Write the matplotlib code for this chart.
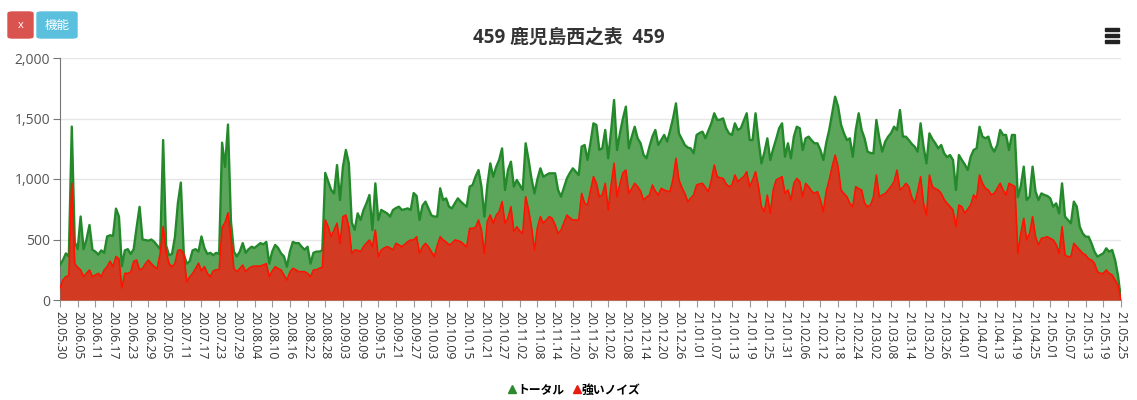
import matplotlib
matplotlib.use("Agg")
import matplotlib.pyplot as plt
from matplotlib.lines import Line2D
from matplotlib.patches import FancyBboxPatch, Rectangle
from matplotlib.ticker import FuncFormatter
import numpy as np
import pandas as pd

plt.rcParams['font.family'] = ['Open Sans', 'Noto Sans CJK JP', 'DejaVu Sans']

title = '459 鹿児島西之表  459'
series_names = ['トータル', '強いノイズ']
dates = pd.date_range('2020-05-30', '2021-05-25', freq='D')
tick_step = 6

# daily totals (green)
total = [
    290, 330, 385, 360, 1433, 480, 420, 690, 420, 500,
    620, 415, 400, 375, 410, 390, 525, 535, 530, 755,
    690, 280, 410, 420, 380, 420, 600, 770, 500, 495,
    490, 500, 480, 450, 420, 1322, 450, 370, 380, 520,
    800, 970, 380, 300, 320, 410, 420, 400, 525, 430,
    380, 390, 370, 390, 380, 1300, 1100, 1450, 650, 400,
    360, 400, 470, 390, 420, 440, 430, 450, 470, 460,
    480, 300, 400, 455, 430, 386, 360, 275, 400, 480,
    470, 470, 440, 415, 440, 300, 390, 400, 400, 410,
    1050, 980, 910, 880, 1115, 826, 1100, 1240, 1130, 640,
    580, 716, 661, 744, 800, 868, 578, 964, 661, 744,
    730, 716, 689, 744, 760, 771, 744, 750, 757, 744,
    884, 860, 661, 780, 813, 758, 700, 689, 690, 923,
    826, 840, 771, 758, 800, 840, 813, 790, 771, 937,
    950, 1020, 1074, 937, 689, 950, 1129, 1019, 1100, 1157,
    1253, 909, 1074, 1143, 937, 992, 950, 909, 1295, 1157,
    1000, 881, 1000, 1088, 1019, 1033, 1047, 1047, 1047, 909,
    854, 930, 1005, 1050, 1088, 1060, 1033, 1267, 1281, 1157,
    1300, 1460, 1446, 1240, 1253, 1405, 1171, 1400, 1653, 1240,
    1380, 1500, 1598, 1253, 1350, 1432, 1336, 1295, 1200, 1171,
    1267, 1350, 1405, 1281, 1322, 1364, 1309, 1400, 1500, 1625,
    1377, 1330, 1281, 1260, 1253, 1212, 1364, 1380, 1391, 1336,
    1400, 1460, 1543, 1488, 1490, 1501, 1420, 1377, 1364, 1460,
    1405, 1419, 1480, 1543, 1322, 1322, 1543, 1322, 1129, 1220,
    1336, 1157, 1250, 1330, 1419, 1460, 1184, 1295, 1171, 1350,
    1432, 1419, 1240, 1336, 1350, 1320, 1295, 1295, 1240, 1157,
    1300, 1405, 1543, 1680, 1600, 1450, 1377, 1322, 1336, 1184,
    1405, 1543, 1405, 1336, 1226, 1215, 1212, 1488, 1336, 1226,
    1309, 1350, 1380, 1432, 1405, 1570, 1350, 1350, 1322, 1290,
    1267, 1226, 1460, 1267, 1129, 1377, 1330, 1295, 1253, 1281,
    1212, 1180, 1198, 1157, 909, 1198, 1157, 1120, 1074, 1184,
    1240, 1253, 1432, 1350, 1336, 1350, 1267, 1226, 1281, 1405,
    1364, 1364, 1240, 1364, 1364, 850, 940, 1102, 826, 854,
    1102, 896, 826, 881, 868, 860, 840, 771, 799, 716,
    964, 689, 661, 634, 813, 771, 606, 551, 523, 523,
    468, 400, 358, 372, 386, 427, 399, 413, 330, 200,
    0,
]

# daily strong noise (red)
noise = [
    100, 165, 193, 200, 964, 300, 270, 248, 193, 220,
    248, 193, 207, 220, 193, 248, 275, 320, 275, 360,
    340, 100, 220, 220, 230, 320, 330, 250, 260, 300,
    330, 300, 276, 260, 386, 607, 400, 300, 276, 300,
    410, 414, 380, 150, 190, 220, 260, 304, 240, 276,
    220, 193, 240, 250, 250, 600, 640, 720, 520, 260,
    234, 260, 289, 234, 260, 275, 280, 280, 280, 290,
    300, 193, 240, 275, 260, 248, 207, 165, 230, 262,
    250, 234, 234, 234, 220, 193, 248, 250, 262, 270,
    661, 606, 523, 578, 634, 468, 689, 702, 606, 386,
    413, 410, 400, 441, 470, 496, 440, 578, 358, 413,
    430, 441, 430, 413, 468, 455, 441, 460, 482, 496,
    496, 523, 386, 440, 468, 441, 400, 358, 450, 523,
    496, 480, 455, 470, 496, 490, 482, 460, 441, 592,
    592, 600, 661, 578, 386, 650, 702, 634, 700, 730,
    813, 634, 675, 771, 565, 606, 570, 551, 854, 744,
    600, 413, 600, 689, 634, 661, 689, 675, 620, 551,
    578, 640, 702, 680, 661, 661, 661, 881, 800, 785,
    900, 1019, 964, 854, 868, 964, 744, 950, 1129, 854,
    960, 1050, 1074, 881, 920, 964, 937, 900, 826, 850,
    868, 950, 900, 868, 923, 909, 900, 896, 1000, 1171,
    992, 930, 881, 813, 840, 868, 950, 960, 964, 930,
    896, 992, 1115, 1019, 1010, 1005, 960, 937, 950, 1033,
    978, 1000, 1019, 1060, 937, 992, 1060, 937, 771, 730,
    868, 716, 909, 992, 1005, 1019, 881, 909, 826, 964,
    1005, 978, 854, 964, 937, 900, 881, 896, 826, 730,
    900, 992, 1102, 1198, 1102, 909, 880, 854, 799, 771,
    937, 920, 909, 800, 771, 785, 850, 1033, 854, 868,
    880, 909, 940, 978, 1074, 909, 930, 964, 937, 850,
    799, 900, 1019, 799, 702, 1033, 937, 920, 909, 881,
    830, 799, 771, 744, 606, 785, 771, 716, 750, 785,
    868, 840, 1033, 964, 923, 909, 868, 881, 923, 964,
    909, 868, 964, 950, 937, 386, 551, 675, 496, 551,
    689, 523, 455, 510, 515, 523, 510, 496, 460, 386,
    606, 372, 358, 358, 468, 441, 413, 386, 372, 340,
    330, 303, 234, 220, 220, 248, 220, 207, 165, 120,
    0,
]

W, H = 1137, 400
fig = plt.figure(figsize=(W / 100, H / 100), dpi=100)
ax = fig.add_axes([60 / W, 100 / H, 1061 / W, 242 / H])

x = np.arange(len(dates))
ax.fill_between(x, total, color='#5ca65c', lw=0, zorder=2)
ax.plot(x, total, color='#23892a', lw=1.7, zorder=3)
ax.fill_between(x, noise, color='#d23a22', lw=0, zorder=4)
ax.plot(x, noise, color='#ff1200', lw=1.2, zorder=5)

ax.set_xlim(0, len(dates) - 1)
ax.set_ylim(0, 2000)
ax.set_yticks([0, 500, 1000, 1500, 2000])
ax.yaxis.set_major_formatter(FuncFormatter(lambda v, p: '{:,}'.format(int(v))))
ax.yaxis.grid(True, color='#e6e6e6', lw=1)
ax.set_axisbelow(True)

ticks = x[::tick_step]
ax.set_xticks(ticks)
ax.set_xticklabels([d.strftime('%y.%m.%d') for d in dates[::tick_step]],
                   rotation=-90, fontsize=8.8, color='#333333')
for s in ['top', 'right']:
    ax.spines[s].set_visible(False)
ax.spines['left'].set_color('#777777')
ax.spines['bottom'].set_color('#999999')
ax.tick_params(axis='y', length=5, color='#777777', labelsize=10, labelcolor='#555555', pad=2)
ax.tick_params(axis='x', length=5, color='#999999', pad=3)

fig.text(0.5, 1 - 38 / H, title, ha='center', va='center',
         fontsize=13.5, weight='bold', color='#333333')

# buttons
fig.add_artist(FancyBboxPatch((8 / W, 1 - 38 / H), 25 / W, 26 / H,
                              boxstyle='round,pad=0,rounding_size=0.004',
                              transform=fig.transFigure, color='#d9534f'))
fig.text(20.5 / W, 1 - 25 / H, 'x', ha='center', va='center', color='white', fontsize=8)
fig.add_artist(FancyBboxPatch((37 / W, 1 - 38 / H), 40 / W, 26 / H,
                              boxstyle='round,pad=0,rounding_size=0.004',
                              transform=fig.transFigure, color='#5bc0de'))
fig.text(57 / W, 1 - 25 / H, '機能', ha='center', va='center', color='white',
         fontsize=9, family=['Noto Sans CJK JP'])

# menu icon
for yy in [29, 35, 41]:
    fig.add_artist(Rectangle((1105 / W, 1 - (yy + 1.5) / H), 14 / W, 3 / H,
                             transform=fig.transFigure, color='#222222'))

handles = [Line2D([], [], ls='none', marker='^', color='#2b8a2b', markersize=6),
           Line2D([], [], ls='none', marker='^', color='#e81c10', markersize=6)]
fig.legend(handles, series_names, loc='center', bbox_to_anchor=(0.505, 10 / H),
           ncol=2, frameon=False, handletextpad=0.05, columnspacing=0.6,
           handlelength=0.8, prop={'family': ['Noto Sans CJK JP'], 'size': 8.5, 'weight': 'bold'})

fig.savefig('out.png', dpi=100)
